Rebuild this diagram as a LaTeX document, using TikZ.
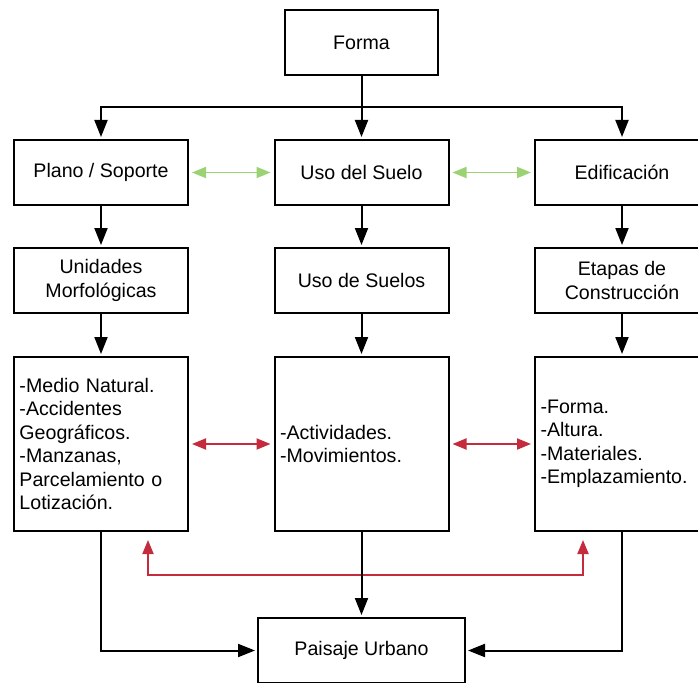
\documentclass[tikz,border=0pt]{standalone}
\usepackage{fontspec}
\setmainfont{Liberation Sans}
\usetikzlibrary{arrows.meta}
\definecolor{lgreen}{HTML}{9BD374}
\definecolor{dred}{HTML}{C42B3C}
\begin{document}
\begin{tikzpicture}[x=1pt,y=-1pt,
  txt/.style={font=\fontsize{19.6pt}{23.5pt}\selectfont},
  box/.style={txt, draw=black, line width=2pt, minimum width=174pt, minimum height=65pt, inner sep=0pt, align=center},
  bigbox/.style={txt, draw=black, line width=2pt, text width=163pt, inner xsep=5.5pt, inner ysep=0pt, minimum height=174pt, align=left},
  arr/.style={line width=2pt, -{Triangle[length=17pt,width=13pt]}, shorten >=2pt},
  garr/.style={draw=lgreen, line width=1.8pt, {Triangle[length=14pt,width=11pt]}-{Triangle[length=14pt,width=11pt]}, shorten >=3pt, shorten <=3pt},
  rarr/.style={draw=dred, line width=2pt, {Triangle[length=14pt,width=11pt]}-{Triangle[length=14pt,width=11pt]}}
]
\fill[white] (0,0) rectangle (698,682);
\useasboundingbox (0,0) rectangle (698,682);

\node[box, minimum width=153pt] (forma) at (361.5,42.5) {Forma};
\node[box] (plano) at (101,172.5) {Plano / Soporte};
\node[box] (uso) at (361.5,172.5) {Uso del Suelo};
\node[box] (edif) at (622,172.5) {Edificación};

\node[box] (unid) at (101,280.5) {Unidades\\Morfológicas};
\node[box] (usos) at (361.5,280.5) {Uso de Suelos};
\node[box] (etap) at (622,280.5) {Etapas de\\Construcción};

\node[bigbox] (lbig) at (101,444) {-Medio Natural.\\-Accidentes\\Geográficos.\\-Manzanas,\\Parcelamiento o\\Lotización.};
\node[bigbox] (mbig) at (361.5,444) {-Actividades.\\-Movimientos.};
\node[bigbox] (rbig) at (622,444) {-Forma.\\-Altura.\\-Materiales.\\-Emplazamiento.};

\node[box, minimum width=207pt] (pais) at (361.5,650.5) {Paisaje Urbano};

\coordinate (split) at (361.5,107);
\coordinate (ra) at (148,575);
\coordinate (rb) at (583,575);

\draw[arr] (forma.south) -- (uso.north);
\draw[arr] (split) -| (plano.north);
\draw[arr] (split) -| (edif.north);

\draw[garr] (plano.east) -- (uso.west);
\draw[garr] (uso.east) -- (edif.west);

\draw[arr] (plano.south) -- (unid.north);
\draw[arr] (uso.south) -- (usos.north);
\draw[arr] (edif.south) -- (etap.north);

\draw[arr] (unid.south) -- (lbig.north);
\draw[arr] (usos.south) -- (mbig.north);
\draw[arr] (etap.south) -- (rbig.north);

\draw[rarr, shorten >=3pt, shorten <=3pt] (lbig.east) -- (mbig.west);
\draw[rarr, shorten >=3pt, shorten <=3pt] (mbig.east) -- (rbig.west);
\draw[rarr, shorten >=8pt, shorten <=8pt] (lbig.south -| ra) -- (ra) -- (rb) -- (rbig.south -| rb);

\draw[arr] (mbig.south) -- (pais.north);
\draw[arr] (lbig.south) |- (pais.west);
\draw[arr] (rbig.south) |- (pais.east);
\end{tikzpicture}
\end{document}
